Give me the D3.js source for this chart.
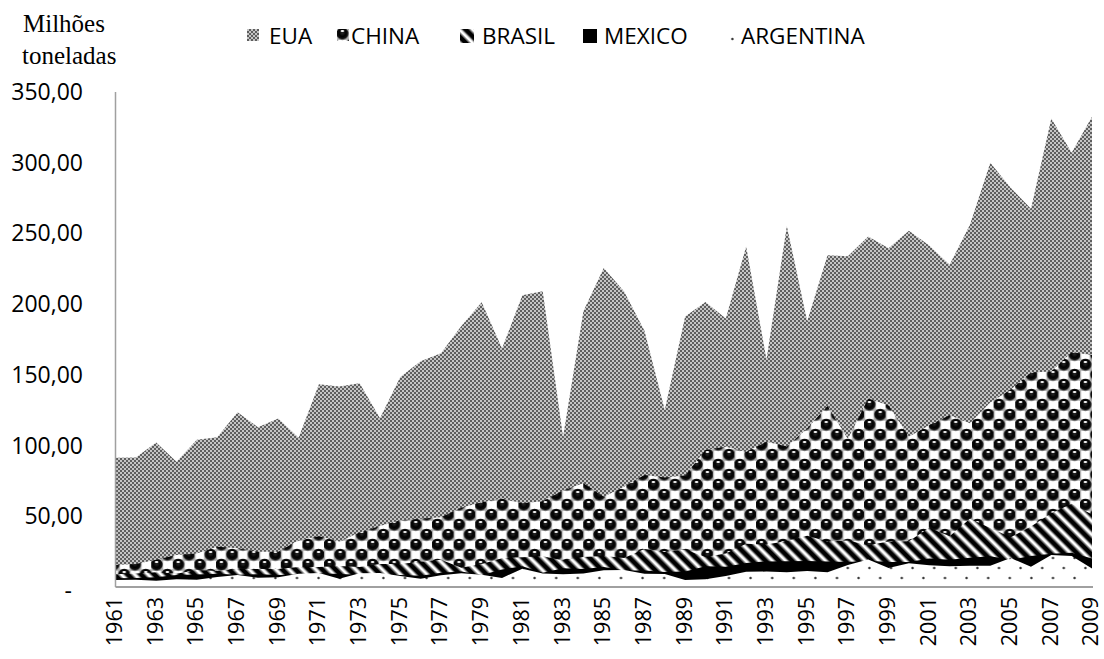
<!DOCTYPE html>
<html>
<head>
<meta charset="utf-8">
<script src="https://cdn.jsdelivr.net/npm/d3@7"></script>
<style>
  body { margin: 0; background: #fff; }
  text { font-family: "Open Sans", sans-serif; fill: #000; }
</style>
</head>
<body>
<div id="chart"></div>
<script>
// anos (categorias)
var years = [1961,1962,1963,1964,1965,1966,1967,1968,1969,1970,1971,1972,1973,1974,1975,1976,1977,1978,1979,1980,
             1981,1982,1983,1984,1985,1986,1987,1988,1989,1990,1991,1992,1993,1994,1995,1996,1997,1998,1999,2000,
             2001,2002,2003,2004,2005,2006,2007,2008,2009];

// producao de milho, milhoes de toneladas
var eua = [91.4,91.6,102.1,88.5,104.2,105.9,123.5,113.0,119.1,105.5,143.4,141.7,144.0,119.4,148.4,159.7,165.2,184.6,201.4,168.6,
           206.2,209.2,106.0,194.9,225.5,208.9,181.1,125.2,191.3,201.5,189.9,240.7,160.9,255.3,187.9,234.5,233.9,247.9,239.5,251.9,
           241.4,227.8,256.2,299.9,282.3,267.5,331.2,307.1,332.5];
var china = [15.5,16.3,19.3,22.7,23.7,28.4,27.4,25.0,24.9,33.0,35.9,32.1,38.6,43.1,47.2,48.2,49.4,56.0,60.0,62.6,
             59.2,60.6,68.2,73.4,63.8,70.9,79.2,77.4,78.9,96.8,99.1,95.4,102.7,99.3,112.0,127.9,104.6,133.2,128.3,106.2,
             114.3,121.5,115.8,130.4,139.5,151.7,152.4,166.0,164.1];
var brasil = [9.0,9.6,10.4,9.4,12.1,11.4,12.8,12.8,12.7,14.2,14.1,14.9,14.1,16.3,16.3,17.8,19.3,13.6,16.3,20.4,
              21.1,21.8,18.7,21.2,22.0,20.5,26.8,24.7,26.6,21.3,23.6,30.5,30.0,32.5,36.3,32.2,32.9,29.6,32.2,32.3,
              41.9,35.9,48.3,41.8,35.1,42.7,52.1,58.9,51.2];
var mexico = [6.2,6.3,6.9,8.5,8.9,9.3,8.6,9.1,8.4,8.9,9.8,9.2,8.6,7.8,8.4,8.0,10.1,11.0,8.5,12.4,
              14.6,10.1,13.2,12.8,14.1,11.7,11.6,10.6,10.9,14.6,14.3,16.9,18.1,18.2,18.4,18.0,17.7,18.5,17.7,17.6,
              20.1,19.3,20.7,21.7,19.3,21.9,23.5,24.3,20.1];
var argentina = [4.9,5.2,4.4,5.4,5.1,7.0,8.5,6.6,6.9,9.4,9.9,5.9,9.7,9.9,7.7,5.9,8.3,9.7,8.7,6.4,
                 12.9,9.6,9.0,9.5,11.9,12.1,9.3,9.2,5.0,5.4,7.7,10.7,10.9,10.4,11.4,10.5,15.5,19.4,13.5,16.8,
                 15.4,14.7,15.0,15.0,20.5,14.4,22.6,22.0,13.1];

var seriesNames = ["EUA", "CHINA", "BRASIL", "MEXICO", "ARGENTINA"];
var yTicks = [0, 50, 100, 150, 200, 250, 300, 350];

var width = 1104, height = 659;
var plotLeft = 115.5, plotRight = 1092, plotTop = 92, plotBottom = 587;

var svg = d3.select("#chart").append("svg")
    .attr("width", width)
    .attr("height", height);

var defs = svg.append("defs");

// padrao EUA: xadrez fino cinza
var pEua = defs.append("pattern").attr("id", "pEua")
    .attr("patternUnits", "userSpaceOnUse").attr("width", 4).attr("height", 4);
pEua.append("rect").attr("width", 4).attr("height", 4).attr("fill", "#5e5e5e");
pEua.append("rect").attr("x", 0.2).attr("y", 0.2).attr("width", 1.6).attr("height", 1.6).attr("fill", "#fff");
pEua.append("rect").attr("x", 2.2).attr("y", 2.2).attr("width", 1.6).attr("height", 1.6).attr("fill", "#fff");

// padrao CHINA: esferas pretas
var ball = defs.append("radialGradient").attr("id", "ballGrad")
    .attr("cx", "50%").attr("cy", "42%").attr("r", "55%");
ball.append("stop").attr("offset", "0%").attr("stop-color", "#2a2a2a");
ball.append("stop").attr("offset", "50%").attr("stop-color", "#000");
ball.append("stop").attr("offset", "80%").attr("stop-color", "#111");
ball.append("stop").attr("offset", "100%").attr("stop-color", "#8a8a8a");

var cw = 21.6, ch = 20;
var pChina = defs.append("pattern").attr("id", "pChina")
    .attr("patternUnits", "userSpaceOnUse").attr("width", cw).attr("height", ch);
pChina.append("rect").attr("width", cw).attr("height", ch).attr("fill", "#b0b0b0");
[[cw * 0.75, ch * 0.25], [cw * 0.25, ch * 0.75], [0, ch * 0.25], [cw, ch * 0.25]].forEach(function(p) {
  pChina.append("rect").attr("x", p[0] - 4.2).attr("y", p[1] - 4.2).attr("width", 8.4).attr("height", 8.4).attr("fill", "#fff");
});
[[cw * 0.25, ch * 0.25], [cw * 0.75, ch * 0.75], [cw * 0.75, -ch * 0.25], [cw * 0.25, ch * 1.25]].forEach(function(p) {
  pChina.append("circle").attr("cx", p[0]).attr("cy", p[1]).attr("r", 6.2).attr("fill", "url(#ballGrad)");
  pChina.append("ellipse").attr("cx", p[0]).attr("cy", p[1] - 3).attr("rx", 1.9).attr("ry", 1).attr("fill", "#fff");
});

// padrao BRASIL: listras diagonais
var sg = defs.append("linearGradient").attr("id", "stripeGrad")
    .attr("x1", "0%").attr("x2", "100%").attr("y1", "0%").attr("y2", "0%");
sg.append("stop").attr("offset", "0%").attr("stop-color", "#fff");
sg.append("stop").attr("offset", "22%").attr("stop-color", "#000");
sg.append("stop").attr("offset", "55%").attr("stop-color", "#000");
sg.append("stop").attr("offset", "85%").attr("stop-color", "#fff");
sg.append("stop").attr("offset", "100%").attr("stop-color", "#fff");
var pBrasil = defs.append("pattern").attr("id", "pBrasil")
    .attr("patternUnits", "userSpaceOnUse").attr("width", 9.4).attr("height", 9.4)
    .attr("patternTransform", "rotate(-45)");
pBrasil.append("rect").attr("width", 9.4).attr("height", 9.4).attr("fill", "url(#stripeGrad)");

// padrao ARGENTINA: pontinhos
var pArg = defs.append("pattern").attr("id", "pArg")
    .attr("patternUnits", "userSpaceOnUse").attr("width", cw).attr("height", ch)
    .attr("y", 3);
pArg.append("rect").attr("width", cw).attr("height", ch).attr("fill", "#fff");
pArg.append("circle").attr("cx", cw * 0.25).attr("cy", ch * 0.25).attr("r", 1.2).attr("fill", "#333");
pArg.append("circle").attr("cx", cw * 0.75).attr("cy", ch * 0.75).attr("r", 1.2).attr("fill", "#333");

var fills = ["url(#pEua)", "url(#pChina)", "url(#pBrasil)", "#000", "url(#pArg)"];
var allSeries = [eua, china, brasil, mexico, argentina];

var x = d3.scalePoint().domain(years).range([plotLeft, plotRight]);
var y = d3.scaleLinear().domain([0, 350]).range([plotBottom, plotTop]);

var area = d3.area()
    .x(function(d, i) { return x(years[i]); })
    .y0(y(0))
    .y1(function(d) { return y(d); });

// areas sobrepostas (EUA atras, Argentina na frente)
svg.append("g").selectAll("path")
    .data(allSeries)
    .enter()
    .append("path")
    .attr("d", area)
    .attr("fill", function(d, i) { return fills[i]; });

// eixos
svg.append("line").attr("x1", plotLeft).attr("x2", plotLeft).attr("y1", plotTop).attr("y2", plotBottom)
    .attr("stroke", "#a0a0a0").attr("stroke-width", 1.5);
svg.append("line").attr("x1", plotLeft).attr("x2", plotRight + 1).attr("y1", plotBottom).attr("y2", plotBottom)
    .attr("stroke", "#a0a0a0").attr("stroke-width", 2);

// rotulos eixo y
svg.append("g").selectAll("text")
    .data(yTicks)
    .enter()
    .append("text")
    .attr("x", function(d) { return d === 0 ? 72 : 83; })
    .attr("y", function(d) { return y(d) + (d === 0 ? 4 : 0); })
    .attr("dy", "0.35em")
    .attr("text-anchor", "end")
    .style("font-size", "23px")
    .text(function(d) { return d === 0 ? "-" : d3.format(".2f")(d).replace(".", ","); });

// rotulos eixo x (ano sim, ano nao)
svg.append("g").selectAll("text")
    .data(years.filter(function(d, i) { return i % 2 === 0; }))
    .enter()
    .append("text")
    .attr("transform", function(d) { return "translate(" + x(d) + "," + (plotBottom + 10) + ")rotate(-90)"; })
    .attr("dy", "0.3em")
    .attr("text-anchor", "end")
    .style("font-size", "21.5px")
    .text(function(d) { return d; });

// titulo do eixo y
var serif = "'Liberation Serif', 'DejaVu Serif', serif";
var yt = svg.append("text").attr("font-family", serif).style("font-family", serif)
    .style("font-size", "25px");
yt.append("tspan").attr("x", 23).attr("y", 32).style("font-family", serif).text("Milhões");
yt.append("tspan").attr("x", 22).attr("y", 64).style("font-family", serif).text("toneladas");

// legenda
var legSwatchX = [247, 337, 460, 583, 727];
var legSwatchW = [12, 12, 14, 14, 12];
var legTextX = [269, 351, 482, 604, 741];
var legend = svg.append("g").selectAll("g")
    .data(seriesNames)
    .enter()
    .append("g");
legend.append("rect")
    .attr("transform", function(d, i) { return "translate(" + legSwatchX[i] + "," + (i === 4 ? 31 : 29) + ")"; })
    .attr("width", function(d, i) { return legSwatchW[i]; })
    .attr("height", function(d, i) { return i < 2 ? 12 : 14; })
    .attr("fill", function(d, i) { return fills[i]; });
legend.append("text")
    .attr("x", function(d, i) { return legTextX[i]; })
    .attr("y", 44)
    .style("font-size", "22.5px")
    .text(function(d) { return d; });
</script>
</body>
</html>
